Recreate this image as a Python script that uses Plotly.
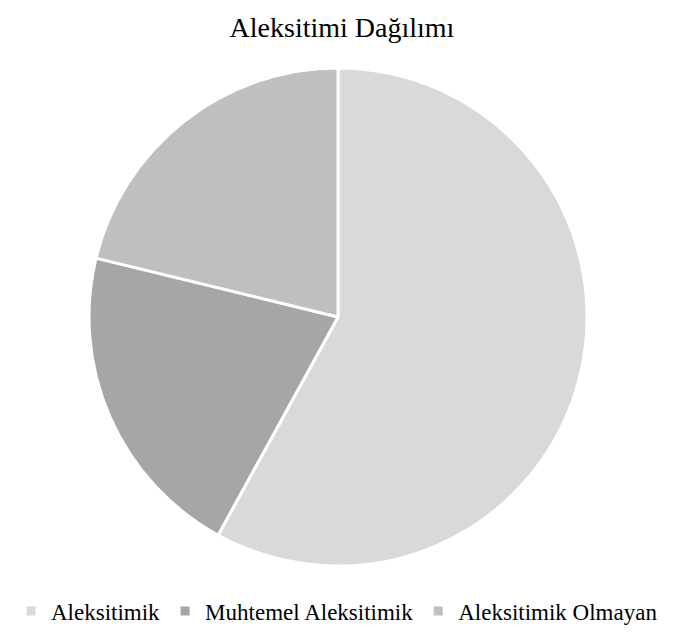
import plotly.graph_objects as go

labels = ["Aleksitimik", "Muhtemel Aleksitimik", "Aleksitimik Olmayan"]
values = [58.0, 20.8, 21.2]
colors = ["#d9d9d9", "#a6a6a6", "#bfbfbf"]

W, H = 675, 634
# page body offset compensation
ox, oy = 8, 7
cx, cy, r = 338 - ox, 316 - oy, 249

fig = go.Figure(go.Pie(
    labels=labels, values=values, sort=False, direction="clockwise", rotation=0,
    marker=dict(colors=colors, line=dict(color="white", width=3)),
    textinfo="none", hoverinfo="label+percent",
    domain=dict(x=[(cx - r) / W, (cx + r) / W], y=[1 - (cy + r) / H, 1 - (cy - r) / H]),
))
fig.update_layout(
    width=W, height=H, margin=dict(l=0, r=0, t=0, b=0),
    paper_bgcolor="white", plot_bgcolor="white",
    font=dict(family="Liberation Serif", color="#000000"),
    title=dict(text="Aleksitimi Dağılımı", x=(342 - ox) / W, xanchor="center", y=1 - (26 - oy) / H, yanchor="middle",
               font=dict(size=28, family="Liberation Serif", color="#000000")),
    legend=dict(orientation="h", x=(337 - ox) / W, xanchor="center", y=1 - (610 - oy) / H, yanchor="middle",
                font=dict(size=23, family="Liberation Serif", color="#000000"),
                itemwidth=30, traceorder="normal"),
)
fig.write_html("out.html")
